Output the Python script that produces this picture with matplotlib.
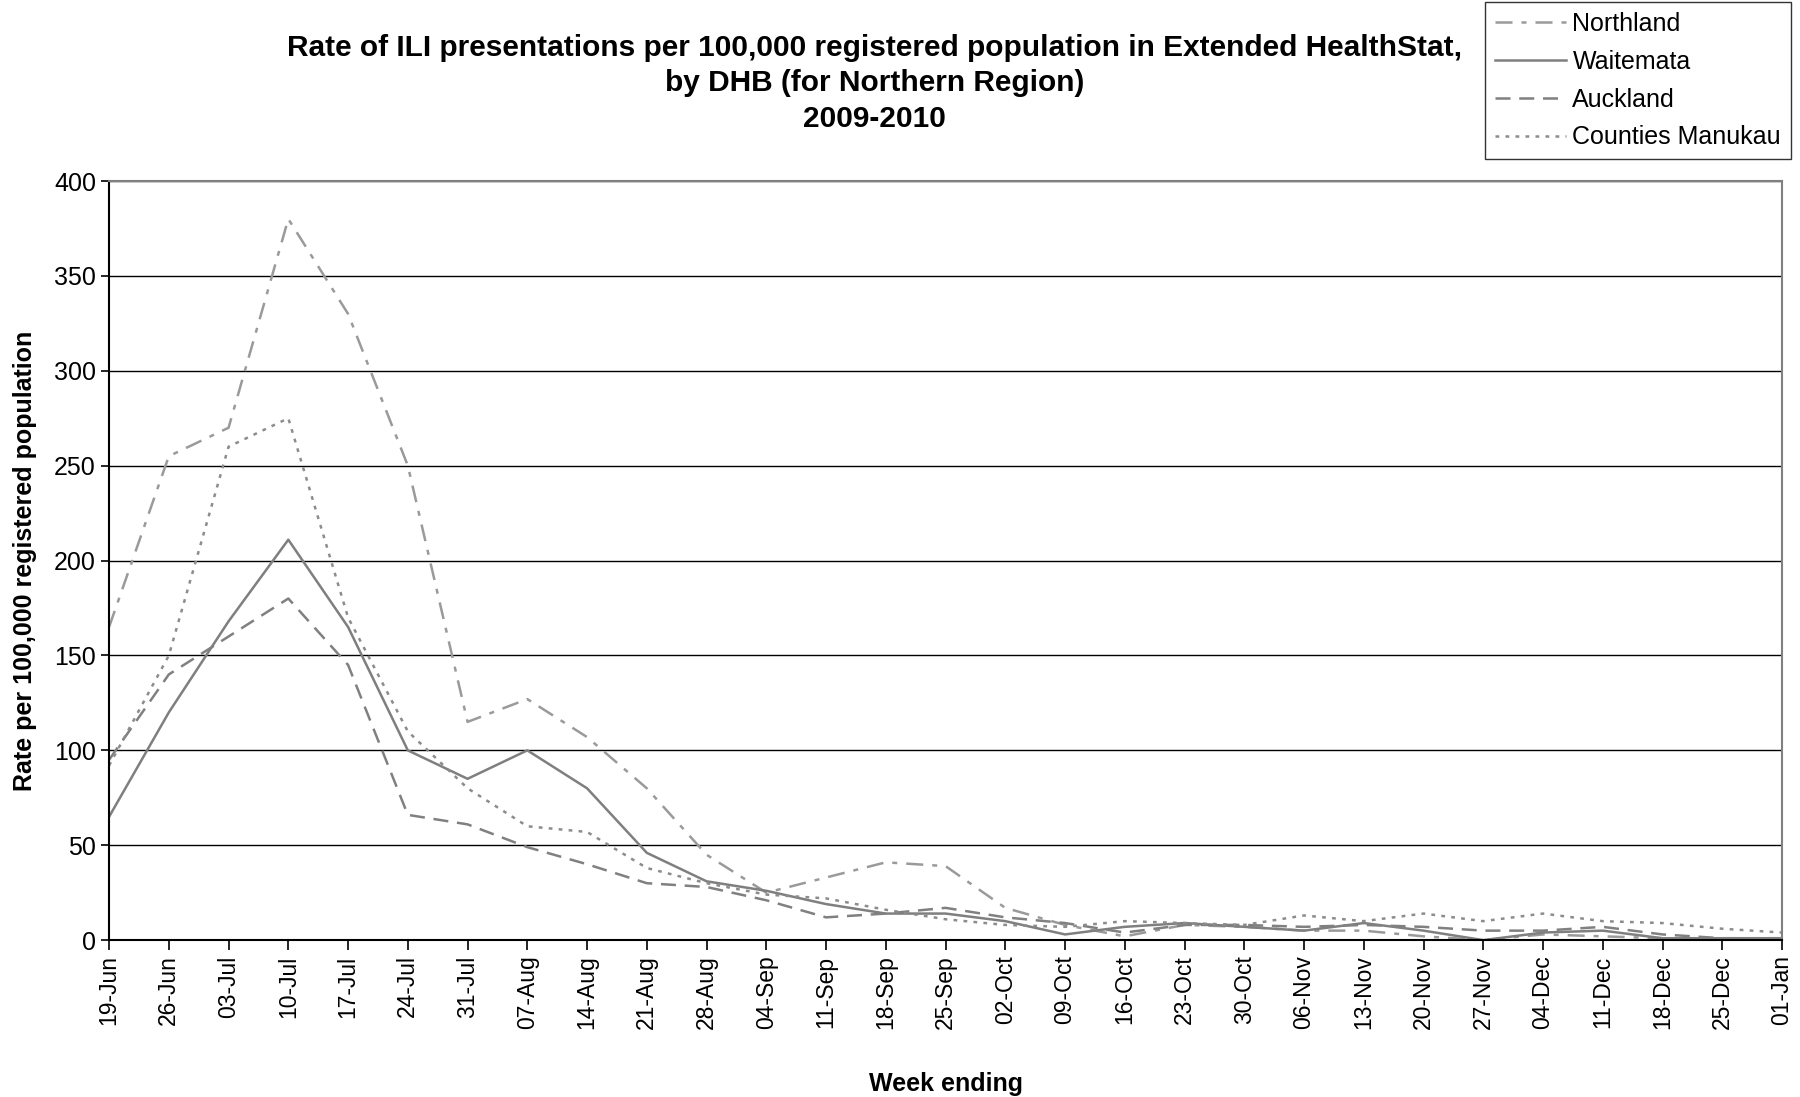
import numpy as np
import matplotlib
matplotlib.use("Agg")
import matplotlib.pyplot as plt

plt.rcParams['font.family'] = ['Liberation Sans', 'DejaVu Sans']

# week ending labels
weeks = ['19-Jun', '26-Jun', '03-Jul', '10-Jul', '17-Jul', '24-Jul', '31-Jul',
         '07-Aug', '14-Aug', '21-Aug', '28-Aug', '04-Sep', '11-Sep', '18-Sep',
         '25-Sep', '02-Oct', '09-Oct', '16-Oct', '23-Oct', '30-Oct', '06-Nov',
         '13-Nov', '20-Nov', '27-Nov', '04-Dec', '11-Dec', '18-Dec', '25-Dec',
         '01-Jan']

# rate per 100,000 by DHB
northland = [165, 255, 270, 380, 330, 250, 115, 127, 107, 80, 45, 25, 33, 41,
             39, 17, 8, 2, 8, 7, 5, 5, 2, 0, 3, 2, 1, 1, 1]
waitemata = [65, 120, 168, 211, 165, 100, 85, 100, 80, 46, 31, 26, 19, 14,
             14, 10, 3, 7, 9, 7, 5, 9, 5, 0, 4, 5, 1, 1, 1]
auckland = [95, 140, 160, 180, 145, 66, 61, 49, 40, 30, 28, 21, 12, 14,
            17, 12, 9, 4, 8, 8, 7, 8, 7, 5, 5, 7, 3, 1, 1]
counties = [92, 150, 260, 275, 170, 110, 80, 60, 57, 38, 30, 24, 22, 16,
            11, 8, 7, 10, 9, 8, 13, 10, 14, 10, 14, 10, 9, 6, 4]

x = np.arange(len(weeks))

fig = plt.figure(figsize=(18, 10.97), dpi=100)
ax = fig.add_axes([0.0606, 0.143, 0.9294, 0.692])

lw = 1.8
ax.plot(x, northland, color='#9a9a9a', lw=lw, dashes=(6.8, 3.6, 2, 3.6), label='Northland')
ax.plot(x, waitemata, color='#7f7f7f', lw=lw, label='Waitemata')
ax.plot(x, auckland, color='#808080', lw=lw, dashes=(6, 3.5), label='Auckland')
ax.plot(x, counties, color='#8c8c8c', lw=lw, dashes=(1.5, 2.5), label='Counties Manukau')

ax.set_xlim(0, len(weeks) - 1)
ax.set_ylim(0, 400)
ax.set_yticks(np.arange(0, 401, 50))
ax.set_xticks(x)
ax.set_xticklabels(weeks, rotation=90, fontsize=16.5)
ax.tick_params(axis='y', labelsize=18, length=6, direction='out', width=1.2)
ax.tick_params(axis='x', length=7, direction='out', width=1.2, pad=4)
ax.yaxis.grid(True, color='black', lw=1.0)
ax.set_axisbelow(True)

for side in ['top', 'right']:
    ax.spines[side].set_color('#808080')
    ax.spines[side].set_linewidth(1.5)
ax.spines['left'].set_linewidth(1.5)
ax.spines['bottom'].set_linewidth(1.5)

ax.set_ylabel('Rate per 100,000 registered population', fontsize=18,
              fontweight='bold', labelpad=12)
ax.set_xlabel('Week ending', fontsize=18, fontweight='bold', labelpad=31)

fig.text(0.486, 0.969, 'Rate of ILI presentations per 100,000 registered population in Extended HealthStat,\n'
         'by DHB (for Northern Region)\n2009-2010',
         ha='center', va='top', fontsize=21.5, fontweight='bold', linespacing=1.33)

leg = ax.legend(loc='upper right', bbox_to_anchor=(1.0054, 1.2358), bbox_transform=ax.transAxes,
                fontsize=18, frameon=True, fancybox=False, borderpad=0.4,
                labelspacing=0.55, handlelength=2.85, handletextpad=0.25, borderaxespad=0)
leg.get_frame().set_edgecolor('black')
leg.get_frame().set_linewidth(1.0)

fig.savefig('out.png', dpi=100)
